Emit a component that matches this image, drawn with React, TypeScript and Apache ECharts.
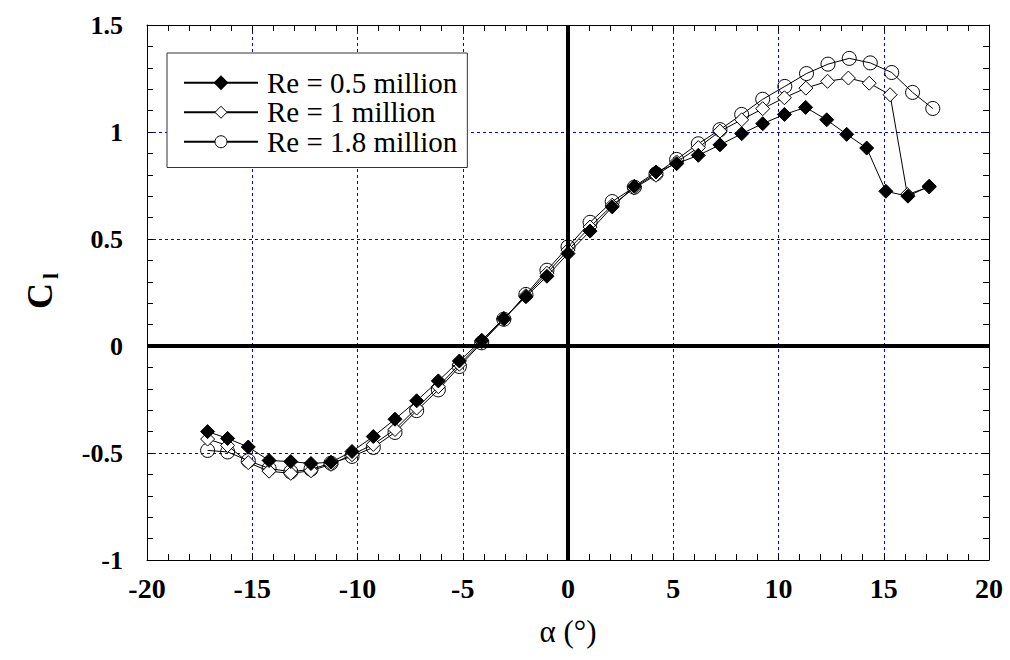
import React, { useEffect, useRef } from "react";
import * as echarts from "echarts";

// Angle of attack (deg) and lift coefficient per Reynolds number
const alphaRe05 = [-17.12, -16.17, -15.19, -14.2, -13.17, -12.21, -11.26, -10.26, -9.25, -8.22, -7.19, -6.16, -5.16, -4.1, -3.05, -2.0, -1.0, 0.0, 1.05, 2.1, 3.15, 4.18, 5.16, 6.19, 7.22, 8.25, 9.25, 10.28, 11.29, 12.29, 13.24, 14.19, 15.1, 16.15, 17.16];
const clRe05 = [-0.4, -0.432, -0.472, -0.535, -0.54, -0.549, -0.543, -0.493, -0.423, -0.342, -0.256, -0.163, -0.07, 0.027, 0.129, 0.23, 0.326, 0.432, 0.537, 0.65, 0.746, 0.813, 0.852, 0.891, 0.94, 0.992, 1.039, 1.082, 1.115, 1.057, 0.989, 0.925, 0.723, 0.7, 0.747];

const alphaRe1 = [-17.12, -16.17, -15.19, -14.2, -13.17, -12.21, -11.26, -10.26, -9.25, -8.22, -7.19, -6.16, -5.16, -4.1, -3.05, -2.0, -1.0, 0.0, 1.05, 2.1, 3.15, 4.18, 5.16, 6.19, 7.22, 8.25, 9.25, 10.28, 11.3, 12.33, 13.32, 14.31, 15.3, 16.12, 17.16];
const clRe1 = [-0.435, -0.465, -0.545, -0.585, -0.595, -0.583, -0.553, -0.508, -0.46, -0.39, -0.29, -0.19, -0.085, 0.02, 0.125, 0.235, 0.34, 0.448, 0.556, 0.658, 0.738, 0.798, 0.86, 0.927, 1.004, 1.057, 1.109, 1.16, 1.205, 1.237, 1.252, 1.228, 1.174, 0.708, 0.743];

const alphaRe18 = [-17.12, -16.17, -15.19, -14.2, -13.17, -12.21, -11.26, -10.26, -9.25, -8.22, -7.19, -6.16, -5.16, -4.1, -3.05, -2.0, -1.0, 0.0, 1.05, 2.1, 3.15, 4.18, 5.16, 6.19, 7.22, 8.25, 9.25, 10.3, 11.33, 12.35, 13.36, 14.36, 15.38, 16.37, 17.33];
const clRe18 = [-0.488, -0.495, -0.536, -0.572, -0.588, -0.576, -0.548, -0.516, -0.474, -0.404, -0.302, -0.205, -0.096, 0.015, 0.125, 0.241, 0.354, 0.463, 0.578, 0.675, 0.742, 0.805, 0.872, 0.945, 1.011, 1.082, 1.153, 1.213, 1.273, 1.317, 1.344, 1.323, 1.278, 1.185, 1.11];

const seriesNames = ["Re = 0.5 million", "Re = 1 million", "Re = 1.8 million"];
const xTicks = { min: -20, max: 20, interval: 5 };
const yTicks = { min: -1, max: 1.5, interval: 0.5 };

const FONT = "'Liberation Serif', 'Times New Roman', serif";

function pairs(xs: number[], ys: number[]) {
  return xs.map((x, i) => [x, ys[i]]);
}

export default function App() {
  const ref = useRef<HTMLDivElement>(null);
  useEffect(() => {
    if (!ref.current) return;
    const chart = echarts.init(ref.current, null, { renderer: "svg" });
    const tickCommon = {
      axisLine: { show: true, onZero: false, lineStyle: { color: "#000", width: 1 } },
      axisTick: { show: true, inside: true, length: 6, lineStyle: { color: "#000", width: 1 } },
      minorTick: { show: true, splitNumber: 5, length: 6, lineStyle: { color: "#000", width: 1 } },
    };
    const splitLine = { show: true, lineStyle: { color: "#0000ff", width: 1, type: [3, 3] as any } };
    const lineBase = {
      type: "line" as const,
      showSymbol: true,
      symbolSize: 14,
      lineStyle: { color: "#000", width: 1 },
      emphasis: { disabled: true },
      xAxisIndex: 0,
      yAxisIndex: 0,
    };
    chart.setOption({
      animation: false,
      backgroundColor: "#fff",
      grid: { left: 147, right: 21, top: 25, bottom: 100, containLabel: false },
      xAxis: [
        {
          type: "value",
          position: "bottom",
          ...xTicks,
          ...tickCommon,
          splitLine,
          axisLabel: { fontSize: 28, fontWeight: "bold", fontFamily: FONT, color: "#000", margin: 14 },
          name: "α (°)",
          nameLocation: "middle",
          nameGap: 56,
          nameTextStyle: { fontSize: 31, fontFamily: FONT, color: "#000" },
        },
        {
          type: "value",
          position: "top",
          ...xTicks,
          ...tickCommon,
          splitLine: { show: false },
          axisLabel: { show: false },
        },
      ],
      yAxis: [
        {
          type: "value",
          position: "left",
          ...yTicks,
          ...tickCommon,
          splitLine,
          axisLabel: { fontSize: 26, fontWeight: "bold", fontFamily: FONT, color: "#000", margin: 24 },
        },
        {
          type: "value",
          position: "right",
          ...yTicks,
          ...tickCommon,
          splitLine: { show: false },
          axisLabel: { show: false },
        },
      ],
      legend: {
        orient: "vertical",
        left: 167,
        top: 53,
        padding: [15, 10, 11, 16],
        itemGap: 0,
        itemWidth: 74,
        itemHeight: 15,
        borderColor: "#333",
        borderWidth: 1,
        backgroundColor: "#fff",
        selectedMode: false,
        textStyle: { fontSize: 29, fontFamily: FONT, color: "#000", lineHeight: 29.5, padding: [0, 0, 0, 4] },
        data: [
          { name: seriesNames[0], itemStyle: { color: "#000", borderColor: "#000" } },
          { name: seriesNames[1], itemStyle: { color: "#fff", borderColor: "#000", borderWidth: 1 } },
          { name: seriesNames[2], itemStyle: { color: "#fff", borderColor: "#000", borderWidth: 1 } },
        ],
      },
      graphic: [
        {
          type: "group",
          x: 40,
          y: 292,
          rotation: Math.PI / 2,
          children: [
            {
              type: "text",
              x: -4,
              y: 0,
              style: { text: "C", fontSize: 36, fontWeight: "bold", fontFamily: FONT, fill: "#000", align: "center", verticalAlign: "middle" },
            },
            {
              type: "text",
              x: 16,
              y: 10,
              style: { text: "l", fontSize: 22, fontWeight: "bold", fontFamily: FONT, fill: "#000", align: "center", verticalAlign: "middle" },
            },
          ],
        },
      ],
      series: [
        {
          ...lineBase,
          name: seriesNames[0],
          z: 5,
          symbol: "diamond",
          itemStyle: { color: "#000", borderColor: "#000", borderWidth: 1 },
          data: pairs(alphaRe05, clRe05),
        },
        {
          ...lineBase,
          name: seriesNames[1],
          z: 4,
          symbol: "diamond",
          itemStyle: { color: "#fff", borderColor: "#000", borderWidth: 1 },
          data: pairs(alphaRe1, clRe1),
        },
        {
          ...lineBase,
          name: seriesNames[2],
          z: 3,
          symbol: "circle",
          itemStyle: { color: "rgba(0,0,0,0)", borderColor: "#000", borderWidth: 1 },
          data: pairs(alphaRe18, clRe18),
        },
        {
          type: "line",
          name: "zero",
          z: 2,
          data: [],
          xAxisIndex: 0,
          yAxisIndex: 0,
          markLine: {
            silent: true,
            symbol: ["none", "none"],
            label: { show: false },
            lineStyle: { color: "#000", width: 4, type: "solid" },
            emphasis: { disabled: true },
            data: [{ xAxis: 0 }, { yAxis: 0 }],
          },
        },
      ],
    });
    return () => chart.dispose();
  }, []);
  return <div ref={ref} style={{ position: "absolute", left: 0, top: 0, width: 1010, height: 660 }} />;
}
